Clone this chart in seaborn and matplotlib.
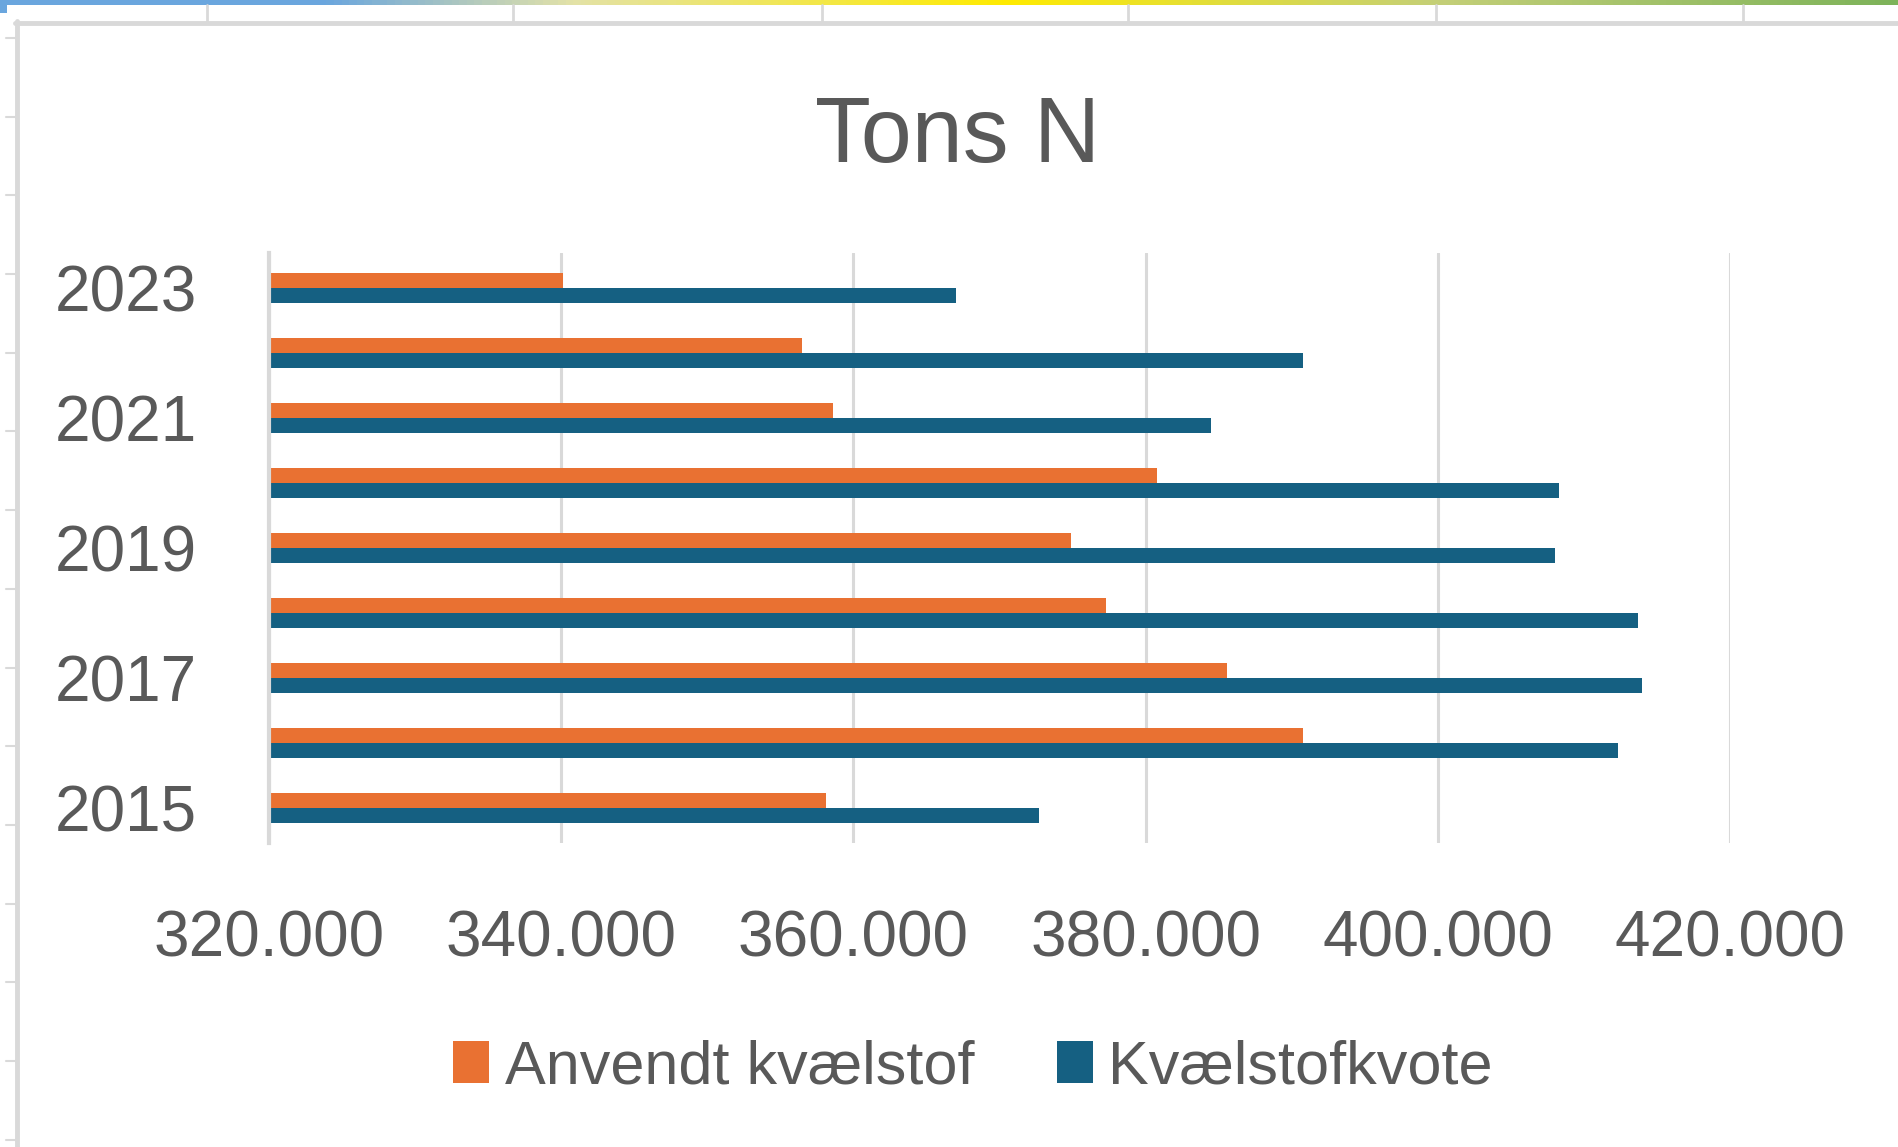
import numpy as np
import pandas as pd
import matplotlib
matplotlib.use("Agg")
import matplotlib.pyplot as plt
from matplotlib.patches import Rectangle
from matplotlib.lines import Line2D
from matplotlib.colors import LinearSegmentedColormap
from matplotlib.ticker import FuncFormatter
import seaborn as sns

# ---------------- data ----------------
years = ["2015", "2016", "2017", "2018", "2019", "2020", "2021", "2022", "2023"]
anvendt = [358100, 390800, 385600, 377300, 374900, 380800, 358600, 356500, 340100]
kvote = [372700, 412300, 414000, 413700, 408000, 408300, 384500, 390800, 367000]
series_names = ["Anvendt kvælstof", "Kvælstofkvote"]
series_colors = ["#E97132", "#156082"]
x_ticks = [320000, 340000, 360000, 380000, 400000, 420000]
title = "Tons N"

df = pd.DataFrame({
    "Year": years * 2,
    "Serie": [series_names[0]] * len(years) + [series_names[1]] * len(years),
    "Value": anvendt + kvote,
})

# ---------------- figure ----------------
W, H = 1898, 1147
sns.set_style("white")
plt.rcParams["font.family"] = ["Liberation Sans", "DejaVu Sans"]
TEXT = "#595959"
GRID = "#D9D9D9"

fig = plt.figure(figsize=(W / 100, H / 100), dpi=100)
fig.patch.set_facecolor("white")


def fx(x):
    return x / W


def fy(y):
    return 1 - y / H


# screenshot decorations (spreadsheet frame)
gax = fig.add_axes([0, fy(5), 1, 5 / H])
cmap = LinearSegmentedColormap.from_list(
    "g", [(0, "#6AA6DE"), (0.17, "#6AA6DE"), (0.3, "#E3E2A8"), (0.53, "#FFEB00"),
          (0.76, "#C4CF78"), (1.0, "#7DB35A")])
gax.imshow(np.linspace(0, 1, 500)[None, :], aspect="auto", cmap=cmap)
gax.axis("off")
fig.add_artist(Rectangle((0, fy(13)), fx(7), 8 / H, transform=fig.transFigure,
                         color="#6AA6DE", lw=0))
for cx in [207, 513, 822, 1128, 1436, 1743]:
    fig.add_artist(Line2D([fx(cx), fx(cx)], [fy(5), fy(21)], transform=fig.transFigure,
                          color=GRID, lw=2))
fig.add_artist(Line2D([fx(15), 1], [fy(23), fy(23)], transform=fig.transFigure,
                      color=GRID, lw=3.5))
fig.add_artist(Line2D([fx(17), fx(17)], [fy(21), 0], transform=fig.transFigure,
                      color=GRID, lw=3.5))
for ry in np.arange(38, H, 78.7):
    fig.add_artist(Line2D([fx(6), fx(15)], [fy(ry), fy(ry)], transform=fig.transFigure,
                          color=GRID, lw=1.5))

# plot area
left, right, top, bottom = 269, 1730, 253, 843
ax = fig.add_axes([fx(left), fy(bottom), (right - left) / W, (bottom - top) / H])

order = years[::-1]
sns.barplot(data=df, y="Year", x="Value", hue="Serie", order=order,
            hue_order=series_names, palette=series_colors, orient="h",
            width=0.473, gap=0, saturation=1, linewidth=0, edgecolor="none", ax=ax)

ax.set_xlim(x_ticks[0], x_ticks[-1])
ax.set_ylim(len(order) - 0.5 + 0.04, -0.5 - 0.04)
ax.set_xticks(x_ticks)
ax.xaxis.set_major_formatter(FuncFormatter(lambda v, p: f"{v:,.0f}".replace(",", ".")))
ax.set_yticks(range(len(order)))
ax.set_yticklabels([y if int(y) % 2 == 1 else "" for y in order])
ax.set_xlabel("")
ax.set_ylabel("")
ax.grid(axis="x", color=GRID, lw=2.2)
ax.grid(axis="y", visible=False)
ax.set_axisbelow(True)
for s in ["top", "right", "bottom"]:
    ax.spines[s].set_visible(False)
ax.spines["left"].set_color(GRID)
ax.spines["left"].set_linewidth(3)
ax.tick_params(axis="x", length=0, labelsize=46, labelcolor=TEXT, pad=48)
ax.tick_params(axis="y", length=0, labelsize=46, labelcolor=TEXT, pad=52)

handles, labels = ax.get_legend_handles_labels()
if ax.get_legend() is not None:
    ax.get_legend().remove()
fig.legend(handles, labels, loc="center", bbox_to_anchor=(fx(973), fy(1068)),
           ncol=2, frameon=False, fontsize=44, labelcolor=TEXT,
           handlelength=0.59, handleheight=0.69, handletextpad=0.25,
           columnspacing=1.35, borderaxespad=0)

fig.text(fx(958), fy(162), title, ha="center", va="baseline",
         fontsize=66, color=TEXT)

fig.savefig("out.png", dpi=100)
